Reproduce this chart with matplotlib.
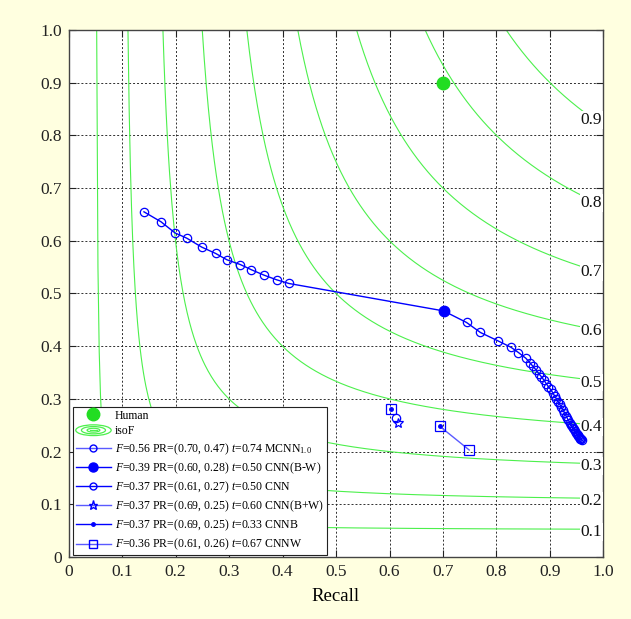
import numpy as np
import matplotlib
matplotlib.use("Agg")
import matplotlib.pyplot as plt
from matplotlib.lines import Line2D
from matplotlib.patches import Ellipse
from matplotlib.legend_handler import HandlerBase

plt.rcParams['font.family'] = ['Liberation Serif', 'DejaVu Serif']
plt.rcParams['mathtext.fontset'] = 'custom'
plt.rcParams['mathtext.rm'] = 'Liberation Serif'
plt.rcParams['mathtext.it'] = 'Liberation Serif:italic'

# ---------------- data ----------------
iso_levels = [0.1, 0.2, 0.3, 0.4, 0.5, 0.6, 0.7, 0.8, 0.9]
iso_labels = ['0.1', '0.2', '0.3', '0.4', '0.5', '0.6', '0.7', '0.8', '0.9']

human_r = [0.70]
human_p = [0.90]

# MCNN_1.0 curve (recall, precision)
mcnn_r = [0.141, 0.173, 0.199, 0.221, 0.249, 0.275, 0.296, 0.321, 0.342, 0.365, 0.389, 0.412,
          0.701, 0.744, 0.770, 0.803, 0.827, 0.841, 0.855, 0.862, 0.868, 0.874, 0.879, 0.884,
          0.889, 0.893, 0.897, 0.901, 0.905, 0.909, 0.912, 0.915, 0.918, 0.921, 0.924, 0.927,
          0.930, 0.932, 0.934, 0.937, 0.939, 0.941, 0.943, 0.945, 0.947, 0.949, 0.950, 0.952,
          0.953, 0.955, 0.956, 0.957, 0.958, 0.959]
mcnn_p = [0.655, 0.636, 0.615, 0.605, 0.588, 0.576, 0.564, 0.555, 0.545, 0.535, 0.526, 0.519,
          0.467, 0.445, 0.426, 0.410, 0.398, 0.388, 0.377, 0.369, 0.362, 0.355, 0.348, 0.342,
          0.335, 0.329, 0.323, 0.318, 0.312, 0.305, 0.300, 0.295, 0.290, 0.285, 0.279, 0.274,
          0.268, 0.264, 0.260, 0.255, 0.251, 0.248, 0.245, 0.242, 0.239, 0.236, 0.234, 0.231,
          0.229, 0.227, 0.225, 0.224, 0.223, 0.222]
mcnn_best_r = [0.701]
mcnn_best_p = [0.467]

cnn_bw_r = [0.602]
cnn_bw_p = [0.280]
cnn_r = [0.613]
cnn_p = [0.263]
cnn_bpw_r = [0.616]
cnn_bpw_p = [0.255]
cnnb_r = [0.694]
cnnb_p = [0.248]
cnnw_r = [0.694, 0.749]
cnnw_p = [0.248, 0.203]
cnnw_best_r = [0.602]
cnnw_best_p = [0.280]

legend_labels = [
    'Human',
    'isoF',
    r'$\mathit{F}$=0.56 PR=(0.70, 0.47) $\mathit{t}$=0.74 MCNN$_{1.0}$',
    r'$\mathit{F}$=0.39 PR=(0.60, 0.28) $\mathit{t}$=0.50 CNN(B-W)',
    r'$\mathit{F}$=0.37 PR=(0.61, 0.27) $\mathit{t}$=0.50 CNN',
    r'$\mathit{F}$=0.37 PR=(0.69, 0.25) $\mathit{t}$=0.60 CNN(B+W)',
    r'$\mathit{F}$=0.37 PR=(0.69, 0.25) $\mathit{t}$=0.33 CNNB',
    r'$\mathit{F}$=0.36 PR=(0.61, 0.26) $\mathit{t}$=0.67 CNNW',
]
ticks = [0, 0.1, 0.2, 0.3, 0.4, 0.5, 0.6, 0.7, 0.8, 0.9, 1.0]
tick_labels = ['0', '0.1', '0.2', '0.3', '0.4', '0.5', '0.6', '0.7', '0.8', '0.9', '1.0']

# ---------------- style ----------------
BG = '#FFFFE0'
GREEN_LINE = '#4CF04C'
GREEN_DOT = '#22DD22'
BLUE = '#0000FF'
LBLUE = '#5A5AFF'

fig = plt.figure(figsize=(6.31, 6.19), dpi=100, facecolor=BG)
ax = fig.add_axes([0.1086, 0.1002, 0.8478, 0.8513])
ax.set_facecolor('white')
ax.set_xlim(0, 1)
ax.set_ylim(0, 1)

# grid
for v in ticks[1:-1]:
    ax.axvline(v, color='#222222', lw=0.65, ls=(0, (2.2, 2.2)), zorder=1)
    ax.axhline(v, color='#222222', lw=0.65, ls=(0, (2.2, 2.2)), zorder=1)

# iso-F curves
for F, lab in zip(iso_levels, iso_labels):
    r = np.linspace(F / (2 - F), 1.0, 400)
    p = F * r / (2 * r - F)
    ax.plot(r, p, color=GREEN_LINE, lw=0.8, zorder=2)
    rl = 0.977
    pl = F * rl / (2 * rl - F)
    ax.text(rl, pl - 0.005, lab, ha='center', va='center', fontsize=12.5,
            color='#111111', zorder=3,
            bbox=dict(boxstyle='square,pad=0.05', fc='white', ec='none'))

# Human
ax.plot(human_r, human_p, 'o', color=GREEN_DOT, ms=9, zorder=5)

# MCNN
ax.plot(mcnn_r, mcnn_p, '-', color=BLUE, lw=1.0, zorder=4)
ax.plot(mcnn_r[:12] + mcnn_r[13:], mcnn_p[:12] + mcnn_p[13:], 'o', mfc='none', mec=BLUE,
        mew=0.9, ms=6, zorder=4)
ax.plot(mcnn_best_r, mcnn_best_p, 'o', color=BLUE, ms=7.5, zorder=5)

# CNN variants
ax.plot(cnnw_best_r, cnnw_best_p, 's', mfc='none', mec=BLUE, mew=0.9, ms=6.5, zorder=5)
ax.plot(cnn_bw_r, cnn_bw_p, 'o', color=BLUE, ms=2.5, zorder=5)
ax.plot(cnn_r, cnn_p, 'o', mfc='none', mec=BLUE, mew=0.9, ms=6, zorder=5)
ax.plot(cnn_bpw_r, cnn_bpw_p, '*', mfc='none', mec=BLUE, mew=0.9, ms=7, zorder=5)
ax.plot(cnnw_r, cnnw_p, '-', color=LBLUE, lw=1.0, zorder=4)
ax.plot(cnnw_r, cnnw_p, 's', mfc='none', mec=BLUE, mew=0.9, ms=6.5, zorder=5)
ax.plot(cnnb_r, cnnb_p, 'o', color=BLUE, ms=2.5, zorder=5)

# axes styling
ax.set_xticks(ticks)
ax.set_xticklabels(tick_labels)
ax.set_yticks(ticks)
ax.set_yticklabels(tick_labels)
ax.tick_params(direction='in', length=5, width=0.8, labelsize=12.5, top=True, right=True,
               colors='#222222', pad=5)
for s in ax.spines.values():
    s.set_color('#444444')
    s.set_linewidth(1.0)
ax.set_xlabel('Recall', fontsize=13.5, labelpad=6)

# legend
class HandlerIso(HandlerBase):
    def create_artists(self, legend, orig_handle, xdescent, ydescent, width, height,
                       fontsize, trans):
        cx = width / 2 - xdescent
        cy = height / 2 - ydescent
        arts = []
        for s in (1.0, 0.68, 0.36):
            arts.append(Ellipse((cx, cy), width * s, height * 1.3 * s, fill=False,
                                edgecolor=GREEN_LINE, lw=0.9, transform=trans))
        arts.append(Line2D([cx - width * 0.1, cx + width * 0.1], [cy, cy], color=GREEN_LINE,
                           lw=0.9, transform=trans))
        return arts

h_human = Line2D([], [], ls='none', marker='o', color=GREEN_DOT, ms=9)
h_iso = Line2D([], [], color=GREEN_LINE)
h_mcnn = Line2D([], [], color=LBLUE, lw=1.0, marker='o', mfc='none', mec=BLUE, ms=5)
h_bw = Line2D([], [], color=BLUE, lw=1.0, marker='o', mfc=BLUE, mec=BLUE, ms=6.5)
h_cnn = Line2D([], [], color=BLUE, lw=1.0, marker='o', mfc='none', mec=BLUE, ms=5)
h_bpw = Line2D([], [], color=LBLUE, lw=1.0, marker='*', mfc='none', mec=BLUE, ms=6.5)
h_b = Line2D([], [], color=BLUE, lw=1.0, marker='o', mfc=BLUE, mec=BLUE, ms=2.5)
h_w = Line2D([], [], color=LBLUE, lw=1.0, marker='s', mfc='none', mec=BLUE, ms=6)
handles = [h_human, h_iso, h_mcnn, h_bw, h_cnn, h_bpw, h_b, h_w]

leg = ax.legend(handles, legend_labels, loc='lower left', bbox_to_anchor=(0.008, 0.003),
                borderaxespad=0, fontsize=8.5, handlelength=3.0, handletextpad=0.3,
                labelspacing=0.32, borderpad=0.25, fancybox=False, framealpha=1,
                edgecolor='#222222', handler_map={h_iso: HandlerIso()})
leg.get_frame().set_linewidth(0.8)
leg.set_zorder(10)

fig.savefig('out.png', dpi=100, facecolor=BG)
